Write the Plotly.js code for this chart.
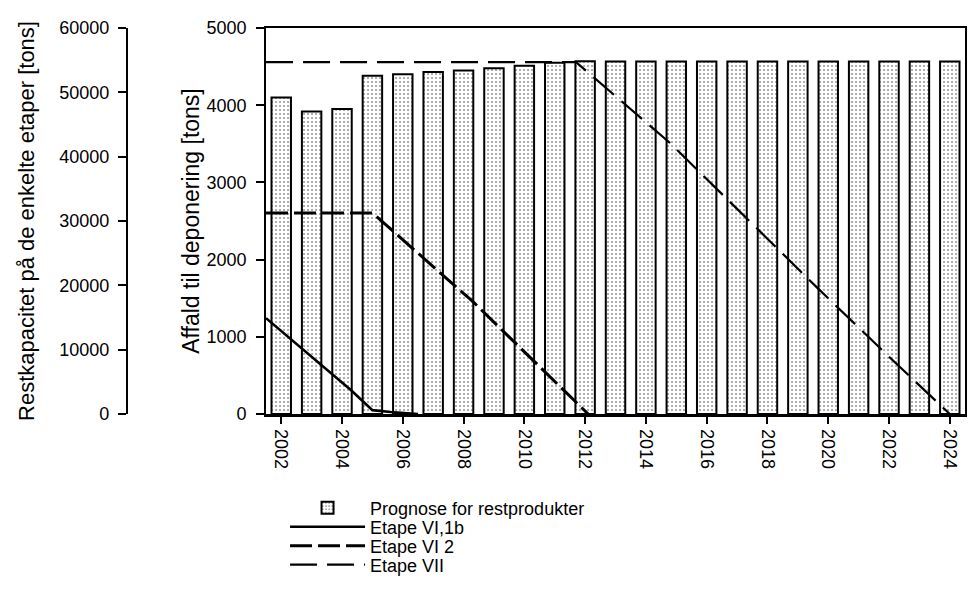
<!DOCTYPE html>
<html>
<head>
<meta charset="utf-8">
<script src="https://cdn.plot.ly/plotly-3.0.1.min.js"></script>
<style>
  html, body { margin: 0; padding: 0; background: #fff; }
  #chart { width: 969px; height: 592px; }
</style>
</head>
<body>
<div id="chart"></div>
<script>
// ---- data ----
const years = [2002, 2003, 2004, 2005, 2006, 2007, 2008, 2009, 2010, 2011, 2012, 2013,
               2014, 2015, 2016, 2017, 2018, 2019, 2020, 2021, 2022, 2023, 2024];
const prognose = [4100, 3920, 3950, 4380, 4400, 4430, 4450, 4480, 4510, 4550, 4570, 4565,
                  4565, 4565, 4565, 4565, 4565, 4565, 4565, 4565, 4565, 4565, 4565];

const vi1bX = [2001.5, 2002.6, 2004.3, 2005.0, 2005.6, 2006.5];
const vi1bY = [14900, 10450, 3700, 600, 300, 0];

const vi2X = [2001.5, 2005.0, 2008.3, 2010.8, 2012.1];
const vi2Y = [31250, 31250, 17500, 6000, 0];

const viiX = [2001.5, 2011.7, 2014.8, 2017.2, 2019.6, 2022.0, 2024.0];
const viiY = [54700, 54700, 42100, 30900, 19800, 8900, 0];

const tickYears = [2002, 2004, 2006, 2008, 2010, 2012, 2014, 2016, 2018, 2020, 2022, 2024];

const names = ['Prognose for restprodukter', 'Etape VI,1b', 'Etape VI 2', 'Etape VII'];
const leftTitle = 'Restkapacitet på de enkelte etaper [tons]';
const rightTitle = 'Affald til deponering [tons]';

// ---- traces ----
const traces = [
  {
    type: 'bar', name: names[0], x: years, y: prognose, width: 0.64, legend: 'legend',
    marker: {
      color: '#ffffff',
      line: { color: '#000', width: 2 },
      pattern: { shape: '.', fgcolor: '#999999', bgcolor: '#ffffff', size: 4, solidity: 0.22 }
    }
  },
  {
    type: 'scatter', mode: 'lines', name: names[1], x: vi1bX, y: vi1bY, yaxis: 'y2',
    legend: 'legend2', line: { color: '#000', width: 2.6 }
  },
  {
    type: 'scatter', mode: 'lines', name: names[2], x: vi2X, y: vi2Y, yaxis: 'y2',
    legend: 'legend3', line: { color: '#000', width: 3, dash: '22px,6px' }
  },
  {
    type: 'scatter', mode: 'lines', name: names[3], x: viiX, y: viiY, yaxis: 'y2',
    legend: 'legend4', line: { color: '#000', width: 2.2, dash: '27px,10px' }
  }
];

const axisCommon = {
  showline: true, linecolor: '#000', showgrid: false, zeroline: false,
  ticks: 'outside', tickcolor: '#000', tickwidth: 2, automargin: false
};

function legendAt(yPaper) {
  return {
    x: 0.288, y: yPaper, xanchor: 'left', yanchor: 'middle',
    font: { size: 18 }, bgcolor: 'rgba(0,0,0,0)', borderwidth: 0,
    itemwidth: 75
  };
}

const layout = {
  width: 969, height: 592,
  margin: { l: 10, r: 4, t: 28, b: 178, pad: 0 },
  paper_bgcolor: '#ffffff', plot_bgcolor: '#ffffff',
  font: { family: 'Liberation Sans, Arial, sans-serif', size: 18, color: '#000' },
  showlegend: true,
  xaxis: Object.assign({}, axisCommon, {
    domain: [0.2681, 1],
    range: [2001.5, 2024.5],
    tickmode: 'array', tickvals: tickYears, ticktext: tickYears.map(String),
    tickangle: 90, ticklen: 7, linewidth: 2.5, mirror: true,
    ticklabelstandoff: 2,
    tickfont: { size: 18 }
  }),
  yaxis: Object.assign({}, axisCommon, {
    range: [0, 5000], tick0: 0, dtick: 1000, ticklen: 8, linewidth: 2, mirror: true,
    tickformat: 'd', ticklabelstandoff: 6,
    tickfont: { size: 18 },
    title: { text: rightTitle, font: { size: 23 }, standoff: 0 }
  }),
  yaxis2: Object.assign({}, axisCommon, {
    overlaying: 'y', anchor: 'free', position: 0.1225, side: 'left',
    range: [0, 60000], tick0: 0, dtick: 10000, ticklen: 8, linewidth: 2,
    tickformat: 'd', ticklabelstandoff: 5,
    tickfont: { size: 18 },
    title: { text: leftTitle, font: { size: 22 }, standoff: 18 }
  }),
  legend: legendAt(-0.2435),
  legend2: legendAt(-0.2927),
  legend3: legendAt(-0.342),
  legend4: legendAt(-0.3912)
};

Plotly.newPlot('chart', traces, layout, { staticPlot: true, displayModeBar: false });
</script>
</body>
</html>
